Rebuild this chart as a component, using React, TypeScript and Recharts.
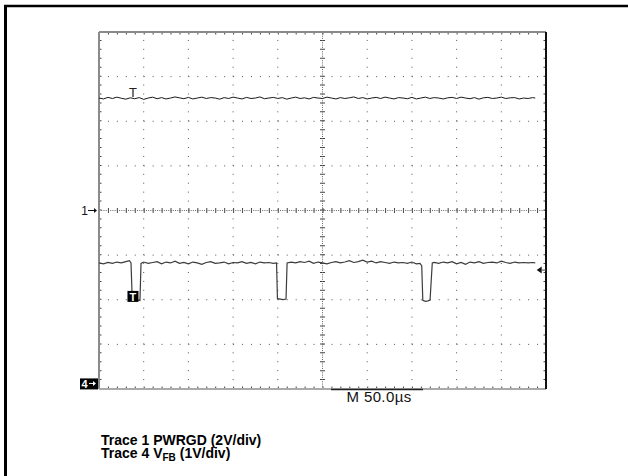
import React from 'react';
import { LineChart, Line, XAxis, YAxis, ReferenceLine, ReferenceDot } from 'recharts';

// ---- scope settings ----
const timeDomain: [number, number] = [0, 500]; // µs, 10 div x 50 µs
const divDomain: [number, number] = [-4, 4]; // graticule divisions
const ch1Domain: [number, number] = [-8, 8]; // V, 2 V/div, ground at centre
const ch4Domain: [number, number] = [-0.125, 7.875]; // V, 1 V/div

const vGridTimes = [50, 100, 150, 200, 300, 350, 400, 450];
const centerTime = 250;
const hGridDivs = [-3, -2, -1, 1, 2, 3];
const centerDiv = 0;

// ---- Trace 1 : PWRGD ----
const t1Times = [
  0, 5, 10, 15, 20, 25, 30, 35, 40, 45,
  50, 55, 60, 65, 70, 75, 80, 85, 90, 95,
  100, 105, 110, 115, 120, 125, 130, 135, 140, 145,
  150, 155, 160, 165, 170, 175, 180, 185, 190, 195,
  200, 205, 210, 215, 220, 225, 230, 235, 240, 245,
  250, 255, 260, 265, 270, 275, 280, 285, 290, 295,
  300, 305, 310, 315, 320, 325, 330, 335, 340, 345,
  350, 355, 360, 365, 370, 375, 380, 385, 390, 395,
  400, 405, 410, 415, 420, 425, 430, 435, 440, 445,
  450, 455, 460, 465, 470, 475, 480, 485, 488,
];
const t1Volts = [
  5.04, 5.00, 5.07, 5.02, 5.08, 5.03, 4.99, 5.05, 5.01, 5.06,
  4.98, 5.04, 5.08, 5.01, 5.06, 5.00, 5.04, 5.09, 5.05, 5.01,
  5.07, 5.00, 5.04, 5.08, 5.02, 5.06, 5.04, 4.99, 5.06, 5.02,
  5.08, 5.04, 5.00, 5.07, 5.02, 5.04, 5.09, 5.01, 5.04, 5.07,
  5.02, 5.06, 4.99, 5.04, 5.08, 5.02, 5.05, 5.00, 5.07, 5.04,
  5.02, 5.08, 5.04, 5.00, 5.06, 5.02, 5.05, 5.09, 5.02, 5.06,
  5.00, 5.04, 5.07, 5.02, 5.08, 5.04, 5.00, 5.06, 5.04, 5.01,
  5.07, 5.00, 5.04, 5.08, 5.02, 5.06, 5.04, 5.00, 5.05, 5.07,
  5.02, 5.08, 5.04, 5.01, 5.06, 4.99, 5.05, 5.07, 5.02, 5.04,
  5.08, 5.02, 5.05, 5.06, 5.00, 5.04, 5.02, 5.06, 5.04,
];

// ---- Trace 4 : VFB ----
const t4Times = [
  0, 5, 10, 15, 20, 25, 30, 34,
  35.8, 37.2, 40, 43, 45.8, 47,
  50, 55, 60, 65, 70, 75, 80, 85, 90, 95,
  100, 105, 110, 115, 120, 125, 130, 135, 140, 145,
  150, 155, 160, 165, 170, 175, 180, 185, 190, 195,
  198.6, 199.6, 203, 206, 209.2, 210.4,
  215, 220, 225, 230, 235, 240, 245, 250, 255, 260,
  265, 270, 275, 280, 285, 290, 295, 300, 305, 310,
  315, 320, 325, 330, 335, 340, 345, 350, 355,
  359, 361, 362.2, 365, 368, 370.3, 372.8,
  375, 380, 385, 390, 395, 400, 405, 410, 415, 420,
  425, 430, 435, 440, 445, 450, 455, 460, 465, 470,
  475, 480, 485, 488,
];
const t4Volts = [
  2.70, 2.68, 2.71, 2.69, 2.72, 2.70, 2.73, 2.75,
  2.70, 1.88, 1.86, 1.87, 1.86, 2.69,
  2.72, 2.69, 2.71, 2.73, 2.68, 2.72, 2.70, 2.74, 2.69, 2.71,
  2.68, 2.72, 2.70, 2.67, 2.71, 2.73, 2.69, 2.70, 2.72, 2.68,
  2.71, 2.70, 2.73, 2.69, 2.71, 2.68, 2.72, 2.70, 2.71, 2.69,
  2.70, 1.90, 1.89, 1.88, 1.89, 2.70,
  2.72, 2.70, 2.73, 2.71, 2.74, 2.69, 2.72, 2.70, 2.68, 2.71,
  2.73, 2.70, 2.72, 2.75, 2.71, 2.73, 2.76, 2.72, 2.74, 2.70,
  2.73, 2.71, 2.69, 2.72, 2.70, 2.71, 2.69, 2.72, 2.68,
  2.69, 2.64, 1.86, 1.84, 1.85, 1.87, 2.70,
  2.71, 2.69, 2.72, 2.70, 2.73, 2.68, 2.71, 2.67, 2.72, 2.70,
  2.73, 2.69, 2.71, 2.72, 2.70, 2.74, 2.71, 2.69, 2.72, 2.70,
  2.71, 2.70, 2.71, 2.70,
];

// ---- markers ----
const triggerTime = 38;
const ch1Ground = 0;
const ch4Ground = 0;
const ch4TrigLevel = 2.54;
const trigBoxLevel = 1.95;
const timebaseMarkTime = 311;
const timebaseLabel = 'M 50.0µs';
const footerLine1 = 'Trace 1 PWRGD (2V/div)';

const t1Rows = t1Times.map((t, i) => ({ t, v: t1Volts[i] }));
const t4Rows = t4Times.map((t, i) => ({ t, v: t4Volts[i] }));

const FONT = '"Liberation Sans", Arial, Helvetica, sans-serif';
const GRID = '#555';
const MINOR_H = '1 7.94';
const MINOR_V = '1 7.925';

export default function App() {
  return (
    <div style={{ position: 'absolute', left: 0, top: 0, width: 628, height: 476, background: '#fff' }}>
      <LineChart width={628} height={476} margin={{ top: 32, right: 82, bottom: 87, left: 99 }}>
        <XAxis xAxisId="t" type="number" dataKey="t" domain={timeDomain} allowDataOverflow hide />
        <YAxis yAxisId="div" type="number" domain={divDomain} allowDataOverflow hide />
        <YAxis yAxisId="ch1" type="number" domain={ch1Domain} allowDataOverflow hide />
        <YAxis yAxisId="ch4" type="number" domain={ch4Domain} allowDataOverflow hide />

        {/* dotted graticule */}
        {vGridTimes.map((x) => (
          <ReferenceLine key={'vg' + x} xAxisId="t" yAxisId="div" x={x} stroke={GRID} strokeWidth={1} strokeDasharray={MINOR_V} ifOverflow="hidden" />
        ))}
        {hGridDivs.map((y) => (
          <ReferenceLine key={'hg' + y} xAxisId="t" yAxisId="div" y={y} stroke={GRID} strokeWidth={1} strokeDasharray={MINOR_H} ifOverflow="hidden" />
        ))}

        {/* centre cross with minor ticks */}
        <ReferenceLine xAxisId="t" yAxisId="div" x={centerTime} stroke="#444" strokeWidth={5} strokeDasharray={MINOR_V} ifOverflow="hidden" />
        <ReferenceLine xAxisId="t" yAxisId="div" x={centerTime} stroke="#666" strokeWidth={1} strokeDasharray="1 1.23" ifOverflow="hidden" />
        <ReferenceLine xAxisId="t" yAxisId="div" y={centerDiv} stroke="#444" strokeWidth={5} strokeDasharray={MINOR_H} ifOverflow="hidden" />
        <ReferenceLine xAxisId="t" yAxisId="div" y={centerDiv} stroke="#666" strokeWidth={1} strokeDasharray="1 1.235" ifOverflow="hidden" />

        {/* border ticks */}
        <ReferenceLine xAxisId="t" yAxisId="div" x={timeDomain[0]} stroke="#444" strokeWidth={5} strokeDasharray={MINOR_V} ifOverflow="hidden" />
        <ReferenceLine xAxisId="t" yAxisId="div" x={timeDomain[1]} stroke="#444" strokeWidth={5} strokeDasharray={MINOR_V} ifOverflow="hidden" />
        <ReferenceLine xAxisId="t" yAxisId="div" y={divDomain[0]} stroke="#444" strokeWidth={5} strokeDasharray={MINOR_H} ifOverflow="hidden" />
        <ReferenceLine xAxisId="t" yAxisId="div" y={divDomain[1]} stroke="#444" strokeWidth={5} strokeDasharray={MINOR_H} ifOverflow="hidden" />

        {/* border */}
        <ReferenceLine xAxisId="t" yAxisId="div" x={timeDomain[0]} stroke="#8a8a8a" strokeWidth={2} />
        <ReferenceLine xAxisId="t" yAxisId="div" y={divDomain[1]} stroke="#8a8a8a" strokeWidth={2} />
        <ReferenceLine xAxisId="t" yAxisId="div" y={divDomain[0]} stroke="#aaa" strokeWidth={2} />
        <ReferenceLine xAxisId="t" yAxisId="div" x={timeDomain[1]} stroke="#111" strokeWidth={2} />

        <Line xAxisId="t" yAxisId="ch1" data={t1Rows} dataKey="v" type="linear" stroke="#1a1a1a" strokeWidth={1} dot={false} isAnimationActive={false} />
        <Line xAxisId="t" yAxisId="ch4" data={t4Rows} dataKey="v" type="linear" stroke="#3c3c3c" strokeWidth={1.2} dot={false} isAnimationActive={false} />

        {/* trigger marker on trace 1 */}
        <ReferenceDot xAxisId="t" yAxisId="ch1" x={triggerTime} y={5.04} shape={(p: any) => (
          <text x={p.cx} y={p.cy - 1} textAnchor="middle" fontSize={12} fontFamily='"DejaVu Sans", sans-serif' fill="#222">T</text>
        )} />
        {/* trigger box on trace 4 */}
        <ReferenceDot xAxisId="t" yAxisId="ch4" x={triggerTime} y={trigBoxLevel} shape={(p: any) => (
          <g>
            <rect x={p.cx - 5.5} y={p.cy - 5.5} width={11} height={11} fill="#000" />
            <text x={p.cx} y={p.cy + 4.5} textAnchor="middle" fontSize={11} fontWeight="bold" fontFamily={FONT} fill="#fff">T</text>
          </g>
        )} />
        {/* channel 1 ground marker */}
        <ReferenceDot xAxisId="t" yAxisId="ch1" x={timeDomain[0]} y={ch1Ground} shape={(p: any) => (
          <g>
            <text x={p.cx - 11} y={p.cy + 4.5} textAnchor="end" fontSize={12} fontFamily={FONT} fill="#111">1</text>
            <line x1={p.cx - 11} y1={p.cy} x2={p.cx - 5} y2={p.cy} stroke="#111" strokeWidth={1} />
            <polygon points={`${p.cx - 5},${p.cy - 2.5} ${p.cx - 2},${p.cy} ${p.cx - 5},${p.cy + 2.5}`} fill="#111" />
          </g>
        )} />
        {/* channel 4 ground marker */}
        <ReferenceDot xAxisId="t" yAxisId="ch4" x={timeDomain[0]} y={ch4Ground} shape={(p: any) => (
          <g>
            <rect x={p.cx - 19} y={p.cy - 5} width={18} height={11} fill="#000" />
            <text x={p.cx - 14.5} y={p.cy + 4.5} textAnchor="middle" fontSize={11} fontWeight="bold" fontFamily={FONT} fill="#fff">4</text>
            <line x1={p.cx - 10} y1={p.cy} x2={p.cx - 6} y2={p.cy} stroke="#fff" strokeWidth={1} />
            <polygon points={`${p.cx - 6},${p.cy - 2.5} ${p.cx - 3},${p.cy} ${p.cx - 6},${p.cy + 2.5}`} fill="#fff" />
          </g>
        )} />
        {/* trigger level arrow */}
        <ReferenceDot xAxisId="t" yAxisId="ch4" x={timeDomain[1]} y={ch4TrigLevel} shape={(p: any) => (
          <g>
            <polygon points={`${p.cx - 9.3},${p.cy} ${p.cx - 4.3},${p.cy - 3.5} ${p.cx - 4.3},${p.cy + 3.5}`} fill="#111" />
            <line x1={p.cx - 4.3} y1={p.cy} x2={p.cx} y2={p.cy} stroke="#444" strokeWidth={1} />
          </g>
        )} />
        {/* timebase readout */}
        <ReferenceDot xAxisId="t" yAxisId="div" x={timebaseMarkTime} y={divDomain[0]} shape={(p: any) => (
          <g>
            <line x1={p.cx - 46} y1={p.cy + 0.5} x2={p.cx + 46} y2={p.cy + 0.5} stroke="#222" strokeWidth={1.5} />
            <text x={p.cx + 2} y={p.cy + 13} textAnchor="middle" fontSize={15} letterSpacing={0.4} fontFamily={FONT} fill="#111">{timebaseLabel}</text>
          </g>
        )} />
      </LineChart>

      <svg width={628} height={476} style={{ position: 'absolute', left: 0, top: 0, pointerEvents: 'none' }}>
        <line x1={5.5} y1={5} x2={5.5} y2={476} stroke="#000" strokeWidth={3} />
        <line x1={4} y1={6} x2={628} y2={6} stroke="#000" strokeWidth={2.5} />
        <text x={101} y={445} fontSize={14} fontWeight="bold" fontFamily={FONT} fill="#000">{footerLine1}</text>
        <text x={101} y={457.5} fontSize={14} fontWeight="bold" fontFamily={FONT} fill="#000">
          Trace 4 V<tspan fontSize={10} dy={3}>FB</tspan><tspan dy={-3}> (1V/div)</tspan>
        </text>
      </svg>
    </div>
  );
}
